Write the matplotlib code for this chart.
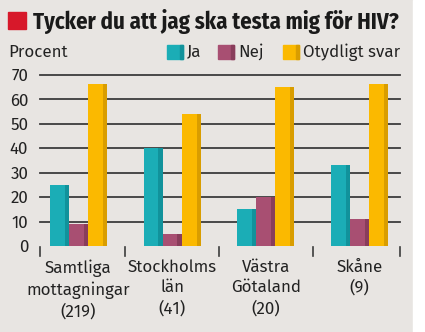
import matplotlib
matplotlib.use("Agg")
import matplotlib.pyplot as plt
from matplotlib.patches import Rectangle
import numpy as np

# ---- data ----
categories = ["Samtliga\nmottagningar\n(219)", "Stockholms\nlän\n(41)", "Västra\nGötaland\n(20)", "Skåne\n(9)"]
series_names = ["Ja", "Nej", "Otydligt svar"]
ja = [25, 40, 15, 33]
nej = [9, 5, 20, 11]
otydligt = [66, 54, 65, 66]
yticks = [0, 10, 20, 30, 40, 50, 60, 70]
title = "Tycker du att jag ska testa mig för HIV?"
ylabel = "Procent"

# ---- style ----
W, H = 425, 332
BG = "#e8e5e2"
colors = ["#1badb6", "#a84f72", "#fbb900"]
darks = ["#11929b", "#893d5b", "#d99d00"]
TXT = "#222222"
FONT = ["Fira Sans", "Lato", "DejaVu Sans"]
TFONT = ["Fira Sans Condensed", "Lato", "DejaVu Sans"]
FS = 12.2

fig = plt.figure(figsize=(W / 100, H / 100), dpi=100)
fig.patch.set_facecolor(BG)
fig.add_artist(Rectangle((413 / W, 0), 1, 1, transform=fig.transFigure, color="white", zorder=0))

def fx(px):
    return px / W

def fy(py):
    return 1 - py / H

ax = fig.add_axes([fx(40), fy(246), fx(400) - fx(40), fy(74.7) - fy(246)])
ax.set_facecolor("none")
ax.set_ylim(0, 70)
x = np.arange(len(categories))
ax.set_xlim(-0.41, 3.43)

for v in yticks[1:]:
    ax.axhline(v, color="#3c3c3c", lw=1.3, zorder=1, clip_on=False)

bw = 0.203
edge = 0.045
for i, vals in enumerate([ja, nej, otydligt]):
    xs = x + (i - 1) * bw
    ax.bar(xs, vals, width=bw, color=colors[i], zorder=2, linewidth=0)
    ax.bar(xs + bw / 2, vals, width=-edge, align="edge", color=darks[i], zorder=3, linewidth=0)

for s in ax.spines.values():
    s.set_visible(False)
ax.set_xticks([])
ax.set_yticks(yticks)
ax.set_yticklabels([str(v) for v in yticks], fontsize=FS, color=TXT, family=FONT)
ax.tick_params(axis="y", length=0, pad=8.5)

seps = [-0.41, 0.5, 1.5, 2.5, 3.43]
for s in seps:
    ax.plot([s, s], [-0.3, -4.0], color="#3c3c3c", lw=1.2, clip_on=False, zorder=1)

for xi, lab in zip(x, categories):
    ax.text(xi, -5.4, lab, ha="center", va="top", fontsize=FS, color=TXT,
            family=FONT, linespacing=1.35)

fig.add_artist(Rectangle((fx(8), fy(29)), fx(18), fy(12) - fy(29), transform=fig.transFigure,
                         color="#d7182a", zorder=3))
fig.text(fx(33), fy(21), title, fontsize=16.3, fontweight="bold", color="#1a1a1a",
         va="center", ha="left", family=TFONT)
fig.text(fx(8), fy(52), ylabel, fontsize=FS, color=TXT, va="center", ha="left", family=FONT)

sw_x = [167, 218, 283]
for i, name in enumerate(series_names):
    x0 = sw_x[i]
    fig.add_artist(Rectangle((fx(x0), fy(59)), fx(16), fy(45) - fy(59), transform=fig.transFigure,
                             color=colors[i], zorder=3))
    fig.add_artist(Rectangle((fx(x0 + 12.5), fy(59)), fx(3.5), fy(45) - fy(59), transform=fig.transFigure,
                             color=darks[i], zorder=4))
    fig.text(fx(x0 + 20), fy(52), name, fontsize=FS, color=TXT, va="center", ha="left", family=FONT)

fig.savefig("out.png", dpi=100, facecolor=BG)
